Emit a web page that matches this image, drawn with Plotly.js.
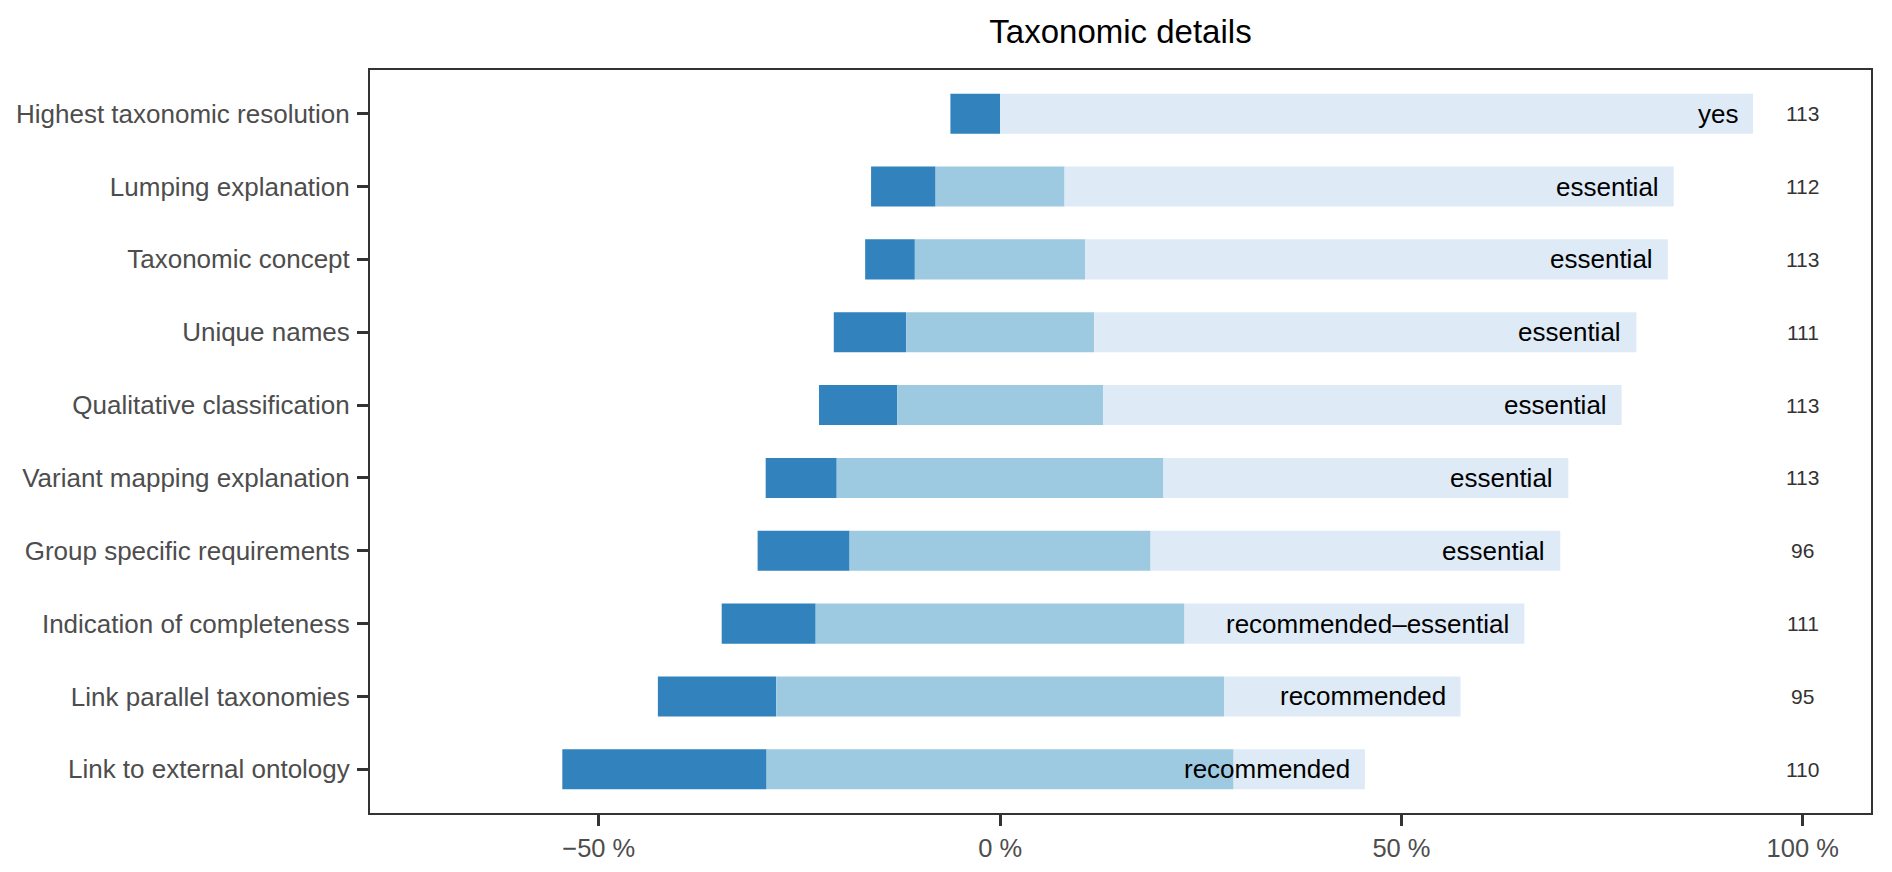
<!DOCTYPE html>
<html>
<head>
<meta charset="utf-8">
<script src="https://cdn.plot.ly/plotly-3.0.1.min.js"></script>
<style>html,body{margin:0;padding:0;background:#fff;}#chart{width:1892px;height:872px;}</style>
</head>
<body>
<div id="chart"></div>
<script>
// Items (top to bottom)
const items = [
  "Highest taxonomic resolution",
  "Lumping explanation",
  "Taxonomic concept",
  "Unique names",
  "Qualitative classification",
  "Variant mapping explanation",
  "Group specific requirements",
  "Indication of completeness",
  "Link parallel taxonomies",
  "Link to external ontology"
];
// Percent of responses per level (low / middle / high)
const lowPct  = [6.19, 8.04, 6.19, 9.01, 9.73, 8.85, 11.46, 11.71, 14.74, 25.45];
const midPct  = [0.00, 16.07, 21.24, 23.42, 25.66, 40.71, 37.50, 45.95, 55.79, 58.18];
const highPct = [93.81, 75.89, 72.57, 67.57, 64.60, 50.44, 51.04, 42.34, 29.47, 16.36];
// Median answer label and number of responses
const answerLabels = ["yes", "essential", "essential", "essential", "essential", "essential",
                      "essential", "recommended\u2013essential", "recommended", "recommended"];
const nResponses = [113, 112, 113, 111, 113, 113, 96, 111, 95, 110];
// Axis ticks
const xTickVals = [-50, 0, 50, 100];
const xTickText = ["\u221250 %", "0 %", "50 %", "100 %"];

const colors = ["#3182bd", "#9ecae1", "#deebf7"];
const FONT = "Liberation Sans, Arial, Helvetica, sans-serif";
const barWidth = 0.55;

const lowBase = lowPct.map((v, i) => -(v + midPct[i] / 2));
const midBase = midPct.map(v => -v / 2);
const highBase = midPct.map(v => v / 2);
const barEnd = midPct.map((v, i) => v / 2 + highPct[i]);

function barTrace(vals, base, color) {
  return {
    type: "bar", orientation: "h",
    y: items, x: vals, base: base,
    width: barWidth,
    marker: {color: color, line: {width: 0}},
    hoverinfo: "skip", showlegend: false
  };
}

const traces = [
  barTrace(lowPct, lowBase, colors[0]),
  barTrace(midPct, midBase, colors[1]),
  barTrace(highPct, highBase, colors[2])
];

const annotations = [];
items.forEach((it, i) => {
  annotations.push({
    x: barEnd[i], y: it, xref: "x", yref: "y",
    text: answerLabels[i], showarrow: false,
    xanchor: "right", yanchor: "middle", xshift: -13,
    font: {family: FONT, size: 26, color: "#000000"}
  });
  annotations.push({
    x: 100, y: it, xref: "x", yref: "y",
    text: String(nResponses[i]), showarrow: false,
    xanchor: "center", yanchor: "middle",
    font: {family: FONT, size: 21, color: "#333333"}
  });
});

const layout = {
  width: 1892, height: 872,
  paper_bgcolor: "#ffffff", plot_bgcolor: "#ffffff",
  margin: {l: 370, r: 21, t: 70, b: 59},
  barmode: "overlay",
  showlegend: false,
  title: {
    text: "Taxonomic details",
    font: {family: FONT, size: 33, color: "#000000"},
    x: 0.5, xref: "paper", xanchor: "center",
    y: 1 - 31 / 872, yref: "container", yanchor: "middle"
  },
  xaxis: {
    range: [-78.5, 108.5],
    tickvals: xTickVals, ticktext: xTickText,
    showgrid: false, zeroline: false,
    showline: true, mirror: true, linecolor: "#333333", linewidth: 2,
    ticks: "outside", ticklen: 11, tickwidth: 3, tickcolor: "#333333",
    tickfont: {family: FONT, size: 25.5, color: "#4d4d4d"}
  },
  yaxis: {
    type: "category",
    categoryorder: "array", categoryarray: items,
    range: [9.6, -0.6],
    showgrid: false, zeroline: false,
    showline: true, mirror: true, linecolor: "#333333", linewidth: 2,
    ticks: "outside", ticklen: 11, tickwidth: 3, tickcolor: "#333333",
    ticklabelstandoff: 2,
    tickfont: {family: FONT, size: 26, color: "#4d4d4d"}
  },
  annotations: annotations
};

Plotly.newPlot("chart", traces, layout, {displayModeBar: false, staticPlot: true});
</script>
</body>
</html>
